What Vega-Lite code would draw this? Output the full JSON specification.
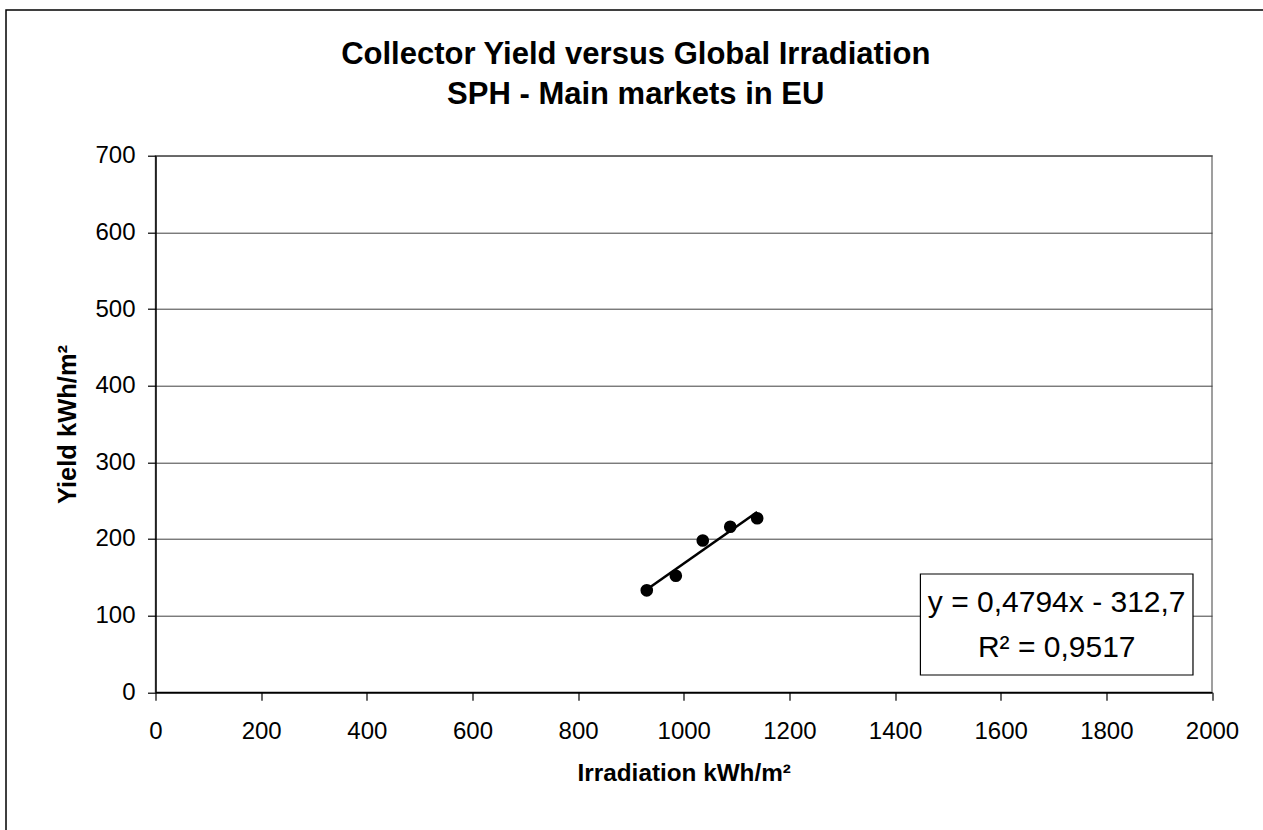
{
  "$schema": "https://vega.github.io/schema/vega-lite/v6.json",
  "width": 1056.5,
  "height": 536.6,
  "autosize": {"type": "none"},
  "padding": {"left": 155.5, "top": 155.7, "right": 51, "bottom": 137.7},
  "background": "white",
  "title": {
    "text": ["Collector Yield versus Global Irradiation", "SPH - Main markets in EU"],
    "font": "Liberation Sans",
    "fontSize": 31,
    "fontWeight": "bold",
    "color": "black",
    "anchor": "middle",
    "frame": "group",
    "dx": -48,
    "dy": 148,
    "lineHeight": 40,
    "offset": 46
  },
  "datasets": {
    "points": [
      {"irradiation": 930, "yield": 133},
      {"irradiation": 985, "yield": 152},
      {"irradiation": 1036, "yield": 198},
      {"irradiation": 1088, "yield": 216},
      {"irradiation": 1139, "yield": 227}
    ],
    "fit": [{"equation": "y = 0,4794x - 312,7", "r2": "R² = 0,9517"}]
  },
  "layer": [
    {
      "data": {"name": "fit"},
      "mark": {"type": "rect", "fill": null, "fillOpacity": 0, "stroke": "black", "strokeWidth": 1.5},
      "encoding": {
        "x": {"datum": -283, "type": "quantitative", "scale": {"domain": [0, 2000], "nice": false, "zero": false}},
        "x2": {"datum": 2100},
        "y": {"datum": 890, "type": "quantitative", "scale": {"domain": [0, 700], "nice": false, "zero": false}},
        "y2": {"datum": -200}
      }
    },
    {
      "data": {"name": "points"},
      "transform": [{"regression": "yield", "on": "irradiation"}],
      "mark": {"type": "line", "color": "black", "strokeWidth": 2.6},
      "encoding": {
        "x": {"field": "irradiation", "type": "quantitative", "scale": {"domain": [0, 2000], "nice": false, "zero": false}},
        "y": {"field": "yield", "type": "quantitative", "scale": {"domain": [0, 700], "nice": false, "zero": false}}
      }
    },
    {
      "data": {"name": "points"},
      "mark": {"type": "point", "shape": "circle", "filled": true, "color": "black", "opacity": 1, "size": 160},
      "encoding": {
        "x": {
          "field": "irradiation", "type": "quantitative",
          "scale": {"domain": [0, 2000], "nice": false, "zero": false},
          "axis": {
            "title": "Irradiation kWh/m²",
            "values": [0, 200, 400, 600, 800, 1000, 1200, 1400, 1600, 1800, 2000],
            "format": "d",
            "grid": false,
            "labelPadding": 19,
            "titlePadding": 18
          }
        },
        "y": {
          "field": "yield", "type": "quantitative",
          "scale": {"domain": [0, 700], "nice": false, "zero": false},
          "axis": {
            "title": "Yield kWh/m²",
            "titleFontSize": 25.5,
            "values": [0, 100, 200, 300, 400, 500, 600, 700],
            "format": "d",
            "grid": true,
            "labelPadding": 12.5,
            "titlePadding": 14
          }
        }
      }
    },
    {
      "data": {"name": "fit"},
      "mark": {"type": "rect", "fill": "white", "stroke": "black", "strokeWidth": 1.2},
      "encoding": {
        "x": {"datum": 1448, "type": "quantitative", "scale": {"domain": [0, 2000], "nice": false, "zero": false}},
        "x2": {"datum": 1964},
        "y": {"datum": 154.3, "type": "quantitative", "scale": {"domain": [0, 700], "nice": false, "zero": false}},
        "y2": {"datum": 22.6}
      }
    },
    {
      "data": {"name": "fit"},
      "mark": {"type": "text", "font": "Liberation Sans", "fontSize": 30, "color": "black", "align": "center", "baseline": "alphabetic"},
      "encoding": {
        "x": {"datum": 1706, "type": "quantitative", "scale": {"domain": [0, 2000], "nice": false, "zero": false}},
        "y": {"datum": 104.7, "type": "quantitative", "scale": {"domain": [0, 700], "nice": false, "zero": false}},
        "text": {"field": "equation"}
      }
    },
    {
      "data": {"name": "fit"},
      "mark": {"type": "text", "font": "Liberation Sans", "fontSize": 30, "color": "black", "align": "center", "baseline": "alphabetic"},
      "encoding": {
        "x": {"datum": 1706, "type": "quantitative", "scale": {"domain": [0, 2000], "nice": false, "zero": false}},
        "y": {"datum": 46, "type": "quantitative", "scale": {"domain": [0, 700], "nice": false, "zero": false}},
        "text": {"field": "r2"}
      }
    }
  ],
  "config": {
    "view": {"stroke": "#808080", "strokeWidth": 1.5},
    "axis": {
      "labelFont": "Liberation Sans",
      "labelFontSize": 24,
      "labelColor": "black",
      "titleFont": "Liberation Sans",
      "titleFontSize": 24.3,
      "titleFontWeight": "bold",
      "titleColor": "black",
      "domainColor": "black",
      "domainWidth": 1.5,
      "tickColor": "black",
      "tickWidth": 1.2,
      "tickSize": 8,
      "gridColor": "#404040",
      "gridWidth": 1,
      "labelFlush": false,
      "labelOverlap": false
    }
  }
}
